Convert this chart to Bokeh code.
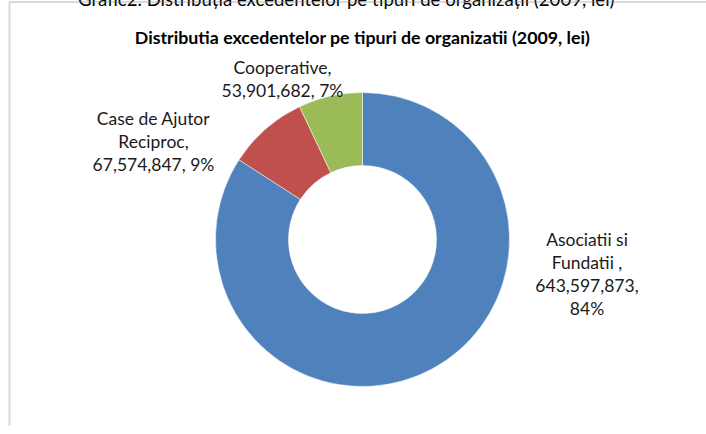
import math
from bokeh.plotting import figure
from bokeh.models import ColumnDataSource, BoxAnnotation
from bokeh.core.properties import value
from bokeh.embed import file_html
from bokeh.resources import INLINE

# ---- data ----
categories = ["Asociatii si Fundatii ", "Case de Ajutor Reciproc", "Cooperative"]
amounts = [643597873, 67574847, 53901682]
colors = ["#4F81BD", "#C0504D", "#9BBB59"]
label_lines = [
    ["Asociatii si", "Fundatii ,", "643,597,873,", "84%"],
    ["Case de Ajutor", "Reciproc,", "67,574,847, 9%"],
    ["Cooperative,", "53,901,682, 7%"],
]
title_text = "Distributia excedentelor pe tipuri de organizatii (2009, lei)"
caption_text = "Grafic2. Distribuția excedentelor pe tipuri de organizații (2009, lei)"

# ---- layout (page pixel coordinates) ----
W, H = 706, 434


def X(px):
    return px


def Y(py):
    return H - py


CX, CY = 362, 247
R_OUT, R_IN = 147, 74
label_pos = [(586.5, 247), (153, 126), (282, 75)]  # center x, first baseline
LINE_H = 23
FONT = "Lato"

p = figure(width=W, height=H, x_range=(0, W), y_range=(0, H),
           output_backend="svg", toolbar_location=None,
           min_border=0, outline_line_color=None)
p.axis.visible = False
p.grid.visible = False
p.background_fill_color = "white"
p.border_fill_color = "white"
p.styles = {"margin-top": "-8px"}

# chart frame
p.add_layout(BoxAnnotation(left=X(9), right=W + 40, top=Y(9.5), bottom=-40,
                           fill_alpha=0, line_color="#868686", line_width=2))

# donut wedges
total = sum(amounts)
starts, ends = [], []
ang = math.pi / 2
for a in amounts:
    starts.append(ang)
    ang -= 2 * math.pi * a / total
    ends.append(ang)
src = ColumnDataSource(dict(start=starts, end=ends, color=colors, cat=categories))
p.annular_wedge(x=X(CX), y=Y(CY), inner_radius=R_IN, outer_radius=R_OUT,
                start_angle="start", end_angle="end", direction="clock",
                fill_color="color", line_color="white", line_width=0.5,
                source=src)

# data labels
xs, ys, ts = [], [], []
for (cx, by), lines in zip(label_pos, label_lines):
    for i, t in enumerate(lines):
        xs.append(X(cx))
        ys.append(Y(by + i * LINE_H))
        ts.append(t)
p.text(x=xs, y=ys, text=ts, text_font=value(FONT), text_font_size="17.5px",
       text_color="#1a1a1a", text_align="center", text_baseline="alphabetic")

# title
p.text(x=[X(362)], y=[Y(44)], text=[title_text], text_font=value(FONT),
       text_font_style="bold", text_font_size="17.8px", text_color="black",
       text_align="center", text_baseline="alphabetic")

# cut-off caption above the frame
p.text(x=[X(346)], y=[Y(6)], text=[caption_text], text_font=value(FONT),
       text_font_size="18.6px", text_color="black",
       text_align="center", text_baseline="alphabetic")

open("out.html", "w").write(file_html(p, INLINE))
